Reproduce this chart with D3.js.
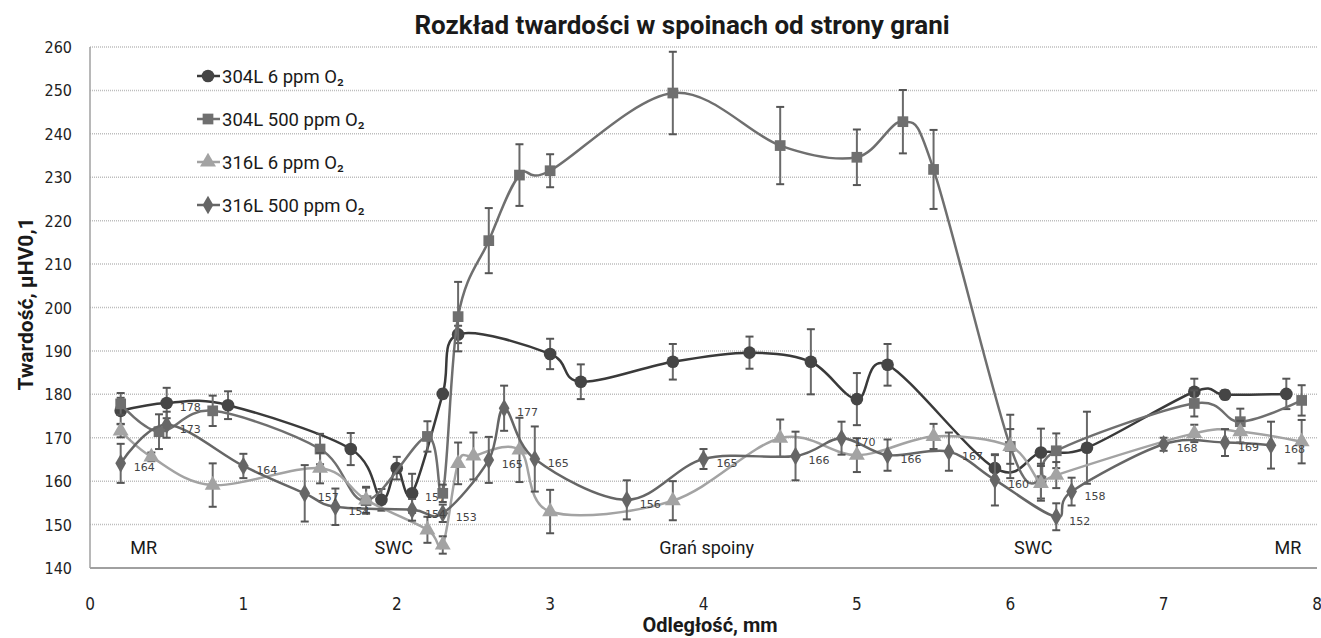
<!DOCTYPE html>
<html>
<head>
<meta charset="utf-8">
<title>Rozkład twardości</title>
<script src="https://d3js.org/d3.v7.min.js"></script>
<style>
body { margin: 0; background: #fff; }
</style>
</head>
<body>
<div id="chart"></div>
<script>
// ---- data ----
var title = "Rozkład twardości w spoinach od strony grani";
var xTitle = "Odległość, mm";
var yTitle = "Twardość, µHV0,1";
var xTicks = [0, 1, 2, 3, 4, 5, 6, 7, 8];
var yTicks = [140, 150, 160, 170, 180, 190, 200, 210, 220, 230, 240, 250, 260];

var names = ["304L 6 ppm O₂", "304L 500 ppm O₂", "316L 6 ppm O₂", "316L 500 ppm O₂"];

var a_x = [0.2, 0.5, 0.9, 1.7, 1.9, 2.0, 2.1, 2.3, 2.4, 3.0, 3.2, 3.8, 4.3, 4.7, 5.0, 5.2, 5.9, 6.2, 6.5, 7.2, 7.4, 7.8];
var a_y = [176.2, 178.0, 177.5, 167.4, 155.7, 163.0, 157.2, 180.1, 193.8, 189.3, 182.9, 187.5, 189.6, 187.5, 178.9, 186.8, 163.0, 166.6, 167.7, 180.6, 179.9, 180.1];
var a_e = [3, 3.5, 3.2, 3.7, 2.5, 2.6, 4.5, 1, 2, 3.5, 4, 4.1, 3.7, 7.5, 6, 4.8, 3, 5.5, 8.3, 3, 1, 3.5];
var a_lab = ["", "178", "", "", "", "", "157", "", "", "", "", "", "", "", "", "", "", "", "", "", "", ""];

var b_x = [0.2, 0.45, 0.8, 1.5, 1.8, 2.2, 2.3, 2.4, 2.6, 2.8, 3.0, 3.8, 4.5, 5.0, 5.3, 5.5, 6.0, 6.2, 6.3, 7.2, 7.5, 7.9];
var b_y = [177.8, 171.4, 176.2, 167.4, 155.5, 170.3, 157.2, 197.9, 215.4, 230.5, 231.5, 249.4, 237.3, 234.6, 242.8, 231.8, 168.0, 160.0, 167.0, 177.9, 173.7, 178.6];
var b_e = [2.5, 4, 3.5, 3.5, 3, 3.5, 2, 8, 7.5, 7.1, 3.8, 9.5, 8.9, 6.4, 7.3, 9.1, 7.3, 4, 4, 3, 3, 3.5];

var c_x = [0.2, 0.4, 0.8, 1.5, 1.8, 2.2, 2.3, 2.4, 2.5, 2.8, 3.0, 3.8, 4.5, 5.0, 5.5, 6.0, 6.2, 6.3, 7.2, 7.5, 7.9];
var c_y = [171.6, 165.6, 159.1, 163.0, 155.7, 148.8, 145.3, 164.1, 165.8, 167.2, 153.0, 155.5, 169.9, 166.0, 170.3, 168.0, 159.5, 161.4, 171.0, 171.4, 169.1];
var c_e = [1.5, 1, 5, 3.5, 3, 3, 2, 4.8, 5.4, 7.4, 5, 4.5, 4.3, 3.9, 2.9, 4, 4, 3, 2, 2.5, 5];

var d_x = [0.2, 0.5, 1.0, 1.4, 1.6, 2.1, 2.3, 2.6, 2.7, 2.9, 3.5, 4.0, 4.6, 4.9, 5.2, 5.6, 5.9, 6.3, 6.4, 7.0, 7.4, 7.7];
var d_y = [164.1, 173.0, 163.5, 157.2, 154.1, 153.4, 152.6, 164.9, 176.8, 165.1, 155.7, 165.1, 165.8, 169.9, 166.0, 166.8, 160.3, 151.8, 157.6, 168.5, 168.9, 168.3];
var d_e = [4.5, 3, 2.8, 6.5, 4.2, 2.5, 2, 5.3, 5.2, 7.5, 4.5, 2.3, 5.6, 3.8, 3.6, 4.4, 5.9, 3.1, 3.2, 1.5, 3.1, 5.4];
var d_lab = ["164", "173", "164", "157", "154", "154", "153", "165", "177", "165", "156", "165", "166", "170", "166", "167", "160", "152", "158", "168", "169", "168"];

var zoneNames = ["MR", "SWC", "Grań spoiny", "SWC", "MR"];
var zoneX = [0.35, 1.98, 4.02, 6.15, 7.81];

// ---- layout ----
var width = 1321, height = 638;
var mLeft = 90, mRight = 1317, mTop = 47, mBottom = 568;

var svg = d3.select("#chart").append("svg")
	.attr("width", width).attr("height", height)
	.style("font-family", "Roboto, 'Liberation Sans', Arial, sans-serif");

var x = d3.scaleLinear().domain([0, 8]).range([mLeft, mRight]);
var y = d3.scaleLinear().domain([140, 260]).range([mBottom, mTop]);

// grid
svg.append("g").selectAll("line").data(yTicks.slice(1)).enter().append("line")
	.attr("x1", mLeft).attr("x2", mRight)
	.attr("y1", function(d){ return y(d); }).attr("y2", function(d){ return y(d); })
	.attr("stroke", "#bdbdbd").attr("stroke-width", 1.5).attr("stroke-dasharray", "1,1");

// axes lines
svg.append("line").attr("x1", mLeft).attr("x2", mLeft).attr("y1", mTop).attr("y2", mBottom)
	.attr("stroke", "#a0a0a0").attr("stroke-width", 1.5);
svg.append("line").attr("x1", mLeft).attr("x2", mRight).attr("y1", mBottom).attr("y2", mBottom)
	.attr("stroke", "#a0a0a0").attr("stroke-width", 2);

// tick labels
var tickFont = "'DejaVu Sans Condensed', 'Liberation Sans', sans-serif";
svg.append("g").selectAll("text").data(yTicks).enter().append("text")
	.attr("x", 72).attr("y", function(d){ return y(d) + 6; })
	.attr("text-anchor", "end").style("font-family", tickFont).style("font-size", "16px")
	.attr("fill", "#222").text(function(d){ return d; });
svg.append("g").selectAll("text").data(xTicks).enter().append("text")
	.attr("x", function(d){ return x(d); }).attr("y", 610)
	.attr("text-anchor", "middle").style("font-family", tickFont).style("font-size", "17px")
	.attr("fill", "#222").text(function(d){ return d; });

// titles
svg.append("text").attr("x", 682).attr("y", 34).attr("text-anchor", "middle")
	.style("font-size", "26px").style("font-weight", "bold").attr("fill", "#1a1a1a").text(title);
svg.append("text").attr("x", 710).attr("y", 632).attr("text-anchor", "middle")
	.style("font-size", "20px").style("font-weight", "bold").attr("fill", "#1a1a1a").text(xTitle);
svg.append("text").attr("transform", "translate(33,304) rotate(-90)").attr("text-anchor", "middle")
	.style("font-size", "21px").style("font-weight", "bold").attr("fill", "#1a1a1a").text(yTitle);

// zone labels
svg.append("g").selectAll("text").data(zoneNames).enter().append("text")
	.attr("x", function(d, i){ return x(zoneX[i]); }).attr("y", y(145) + 8)
	.attr("text-anchor", "middle").style("font-size", "18px").attr("fill", "#1a1a1a")
	.text(function(d){ return d; });

// series
var series = [
	{ xs: a_x, ys: a_y, es: a_e, lab: a_lab, color: "#454545", line: "#3a3a3a", sym: d3.symbolCircle, size: 125 },
	{ xs: b_x, ys: b_y, es: b_e, lab: null, color: "#6f6f6f", line: "#6f6f6f", sym: d3.symbolSquare, size: 115 },
	{ xs: c_x, ys: c_y, es: c_e, lab: null, color: "#a3a3a3", line: "#a3a3a3", sym: d3.symbolTriangle, size: 110 },
	{ xs: d_x, ys: d_y, es: d_e, lab: d_lab, color: "#666666", line: "#666666", sym: d3.symbolDiamond, size: 100 }
];

var lineGen = d3.line().curve(d3.curveCardinal.tension(0))
	.x(function(d){ return x(d[0]); }).y(function(d){ return y(d[1]); });

series.forEach(function(s){
	var pts = s.xs.map(function(v, i){ return [v, s.ys[i], s.es[i]]; });
	var g = svg.append("g");
	g.append("path").attr("d", lineGen(pts)).attr("fill", "none")
		.attr("stroke", s.line).attr("stroke-width", 2.5);
	var eb = g.selectAll(".eb").data(pts).enter().append("g");
	eb.append("line").attr("x1", function(d){ return x(d[0]); }).attr("x2", function(d){ return x(d[0]); })
		.attr("y1", function(d){ return y(d[1] + d[2]); }).attr("y2", function(d){ return y(d[1] - d[2]); })
		.attr("stroke", "#6a6a6a").attr("stroke-width", 2);
	[1, -1].forEach(function(sg){
		eb.append("line").attr("x1", function(d){ return x(d[0]) - 4; }).attr("x2", function(d){ return x(d[0]) + 4; })
			.attr("y1", function(d){ return y(d[1] + sg * d[2]); }).attr("y2", function(d){ return y(d[1] + sg * d[2]); })
			.attr("stroke", "#555").attr("stroke-width", 2);
	});
	g.selectAll(".mk").data(pts).enter().append("path")
		.attr("d", d3.symbol().type(s.sym).size(s.size))
		.attr("transform", function(d){ return "translate(" + x(d[0]) + "," + y(d[1]) + ")"; })
		.attr("fill", s.color);
	if (s.lab) {
		g.selectAll(".lb").data(pts).enter().append("text")
			.attr("x", function(d){ return x(d[0]) + 13; }).attr("y", function(d){ return y(d[1]) + 8; })
			.style("font-family", "'DejaVu Sans', sans-serif").style("font-size", "11px").attr("fill", "#444")
			.text(function(d, i){ return s.lab[i]; });
	}
});

// legend
var leg = svg.append("g");
series.forEach(function(s, i){
	var ly = 76 + i * 43;
	leg.append("line").attr("x1", 197).attr("x2", 220).attr("y1", ly).attr("y2", ly)
		.attr("stroke", s.line).attr("stroke-width", 2.5);
	leg.append("path").attr("d", d3.symbol().type(s.sym).size(s.size))
		.attr("transform", "translate(208," + ly + ")").attr("fill", s.color);
	leg.append("text").attr("x", 222).attr("y", ly + 7).style("font-size", "18.5px")
		.attr("fill", "#1a1a1a").text(names[i]);
});
</script>
</body>
</html>
